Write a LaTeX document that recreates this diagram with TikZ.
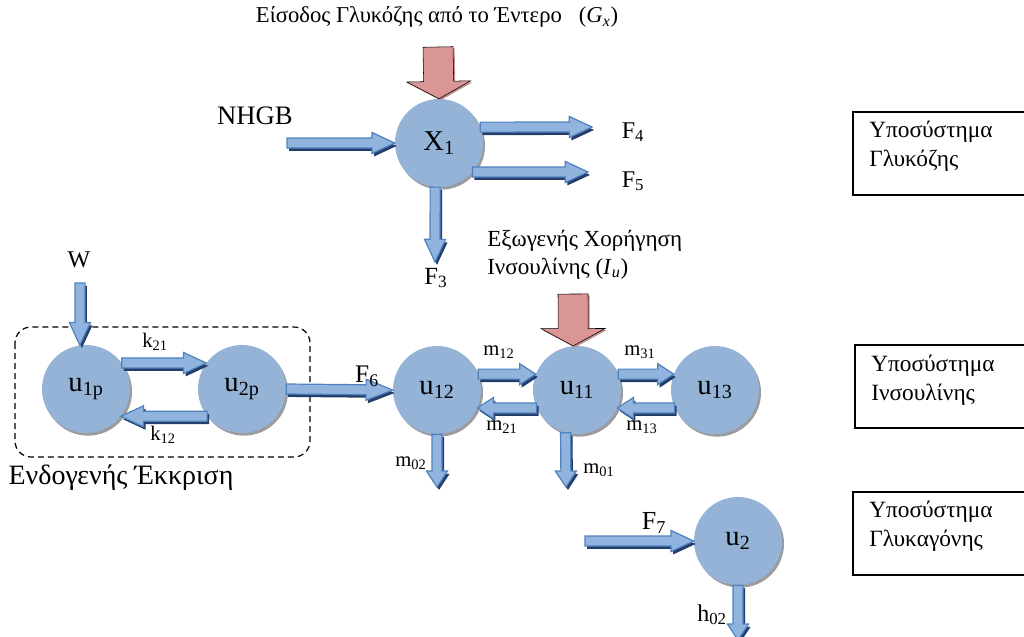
\documentclass[tikz,border=0pt]{standalone}
\usepackage{fontspec}
\setmainfont{Liberation Serif}
\usepackage{tikz}
\usetikzlibrary{positioning,calc,shadows}
\definecolor{compblue}{RGB}{149,179,215}
\definecolor{compshade}{RGB}{155,155,160}
\definecolor{flowfill}{RGB}{145,180,222}
\definecolor{flowline}{RGB}{79,129,189}
\definecolor{flowshade}{RGB}{36,62,108}
\definecolor{intakepink}{RGB}{217,150,148}

\newcommand{\shaftw}{3.75pt}
\newcommand{\headw}{7.9pt}
\newcommand{\headlen}{17pt}

\begin{document}
\begin{tikzpicture}[x=0.75pt, y=-0.75pt,
  arrow shaft/.store in=\shaftw, arrow head/.store in=\headw, arrow tiplen/.store in=\headlen,
  blockarrow/.style={to path={let \p1=(\tikztostart), \p2=(\tikztotarget), \p3=($(\p2)!\headlen!(\p1)$) in
    ($(\p1)!\shaftw!90:(\p2)$) -- ($(\p3)!\shaftw!-90:(\p1)$) -- ($(\p3)!\headw!-90:(\p1)$) -- (\p2)
    -- ($(\p3)!\headw!90:(\p1)$) -- ($(\p3)!\shaftw!90:(\p1)$) -- ($(\p1)!\shaftw!-90:(\p2)$) -- cycle}},
  flow/.style={blockarrow, draw=flowline, line width=0.9pt, fill=flowfill, line join=miter,
    drop shadow={shadow xshift=1.5pt, shadow yshift=-2.2pt, fill=flowshade, draw=none, opacity=1}},
  intake/.style={blockarrow, fill=intakepink, arrow shaft=11.25pt, arrow head=24pt, arrow tiplen=13pt,
    drop shadow={shadow xshift=1.2pt, shadow yshift=-1.2pt, fill=intakepink!70!gray, opacity=1}},
  comp/.style={circle, fill=compblue, minimum size=66pt, inner sep=0pt, font=\fontsize{21.5}{25}\selectfont,
    drop shadow={shadow xshift=1.5pt, shadow yshift=-2pt, fill=compshade, opacity=1}},
  lbl/.style={inner sep=0pt, font=\fontsize{17}{20}\selectfont},
  sublbl/.style={inner sep=0pt, font=\fontsize{15.5}{18}\selectfont}]
\clip (0,0) rectangle (1024,636);

% compartments
\node[comp] (X1) at (439,143) {X\textsubscript{1}};
\node[comp] (u1p) at (86,389) {u\textsubscript{1p}};
\node[comp] (u2p) at (242,389) {u\textsubscript{2p}};
\node[comp] (u12) at (437,390) {u\textsubscript{12}};
\node[comp] (u11) at (577,390) {u\textsubscript{11}};
\node[comp] (u13) at (715,390) {u\textsubscript{13}};
\node[comp] (u2) at (738,541) {u\textsubscript{2}};

% free ends
\coordinate (nhgbin) at (287,143);
\coordinate (f4out) at (592,127);
\coordinate (f5out) at (588,172);
\coordinate (f3out) at (435,262);
\coordinate (gxin) at (438,47);
\coordinate (win) at (80,283);
\coordinate (iuin) at (573,294);
\coordinate (m02out) at (437,487);
\coordinate (m01out) at (566,487);
\coordinate (f7in) at (585,541);
\coordinate (h02out) at (738,640);

% glucose subsystem
\draw[intake] (gxin) to (X1.north);
\draw[flow] (nhgbin) to (X1.west);
\draw[flow] (X1.21) to (f4out);
\draw[flow] (X1.-41) to (f5out);
\draw[flow] (X1.265) to (f3out);

% insulin subsystem
\draw[dashed, dash pattern=on 4.5pt off 3pt, line width=0.9pt, rounded corners=12pt] (15,327) rectangle (310,457);
\draw[flow] (win) to (u1p.98);
\draw[flow] (u1p.36) to (u2p.144);
\draw[flow] (u2p.218) to (u1p.-38);
\draw[flow, arrow tiplen=20pt] (u2p.east) to (u12.west);
\draw[intake] (iuin) to (u11.95);
\foreach \a/\b in {u12.21/u11.159, u11.204/u12.-24, u11.21/u13.159, u13.204/u11.-24, u12.south/m02out, u11.255/m01out}
  \draw[flow, arrow tiplen=12pt] (\a) to (\b);

% glucagon subsystem
\draw[flow] (f7in) to (u2.west);
\draw[flow, arrow tiplen=12pt] (u2.south) to (h02out);

% labels
\node[lbl] (gxlbl) at (437,17) {Είσοδος Γλυκόζης από το Έντερο \ \ (\textit{G}\textsubscript{\textit{x}})};
\node[lbl, anchor=east, font=\fontsize{20}{24}\selectfont] (nhgblbl) at (293,116) {NHGB};
\node[lbl, font=\fontsize{18}{21}\selectfont] (f4lbl) at (633,132) {F\textsubscript{4}};
\node[lbl, font=\fontsize{18}{21}\selectfont] (f5lbl) at (633,181) {F\textsubscript{5}};
\node[lbl, font=\fontsize{18.5}{21}\selectfont] (f3lbl) at (436,278) {F\textsubscript{3}};
\node[lbl, anchor=north west, align=left, font=\fontsize{17.3}{21}\selectfont] (iulbl) at (487,230) {Εξωγενής Χορήγηση\\Ινσουλίνης (\textit{I}\textsubscript{\textit{u}})};
\node[lbl, font=\fontsize{18}{21}\selectfont] (wlbl) at (79,260) {W};
\node[sublbl] (k21lbl) at (155,342) {k\textsubscript{21}};
\node[sublbl] (k12lbl) at (163,435) {k\textsubscript{12}};
\node[lbl, font=\fontsize{19}{22}\selectfont] (f6lbl) at (367,376) {F\textsubscript{6}};
\node[sublbl] (m12lbl) at (499,352) {m\textsubscript{12}};
\node[sublbl] (m31lbl) at (640,352) {m\textsubscript{31}};
\node[sublbl] (m21lbl) at (502,427) {m\textsubscript{21}};
\node[sublbl] (m13lbl) at (642,427) {m\textsubscript{13}};
\node[sublbl] (m02lbl) at (411,463) {m\textsubscript{02}};
\node[sublbl] (m01lbl) at (599,470) {m\textsubscript{01}};
\node[lbl, font=\fontsize{19.5}{22}\selectfont] (f7lbl) at (654,523) {F\textsubscript{7}};
\node[sublbl, font=\fontsize{18}{21}\selectfont] (h02lbl) at (712,615) {h\textsubscript{02}};
\node[lbl, font=\fontsize{21}{24}\selectfont] (endolbl) at (121,478) {Ενδογενής Έκκριση};

% subsystem boxes
\draw[line width=0.9pt] (853,112) rectangle (1030,195);
\node[lbl, anchor=north west, align=left, font=\fontsize{17.5}{21.5}\selectfont] (glucbox) at (869,121) {Υποσύστημα\\Γλυκόζης};
\draw[line width=0.9pt] (855,345) rectangle (1030,428);
\node[lbl, anchor=north west, align=left, font=\fontsize{17.5}{21.5}\selectfont] (insbox) at (871,355) {Υποσύστημα\\Ινσουλίνης};
\draw[line width=0.9pt] (853,492) rectangle (1030,575);
\node[lbl, anchor=north west, align=left, font=\fontsize{17.5}{21.5}\selectfont] (glucagbox) at (869,501) {Υποσύστημα\\Γλυκαγόνης};
\end{tikzpicture}
\end{document}
